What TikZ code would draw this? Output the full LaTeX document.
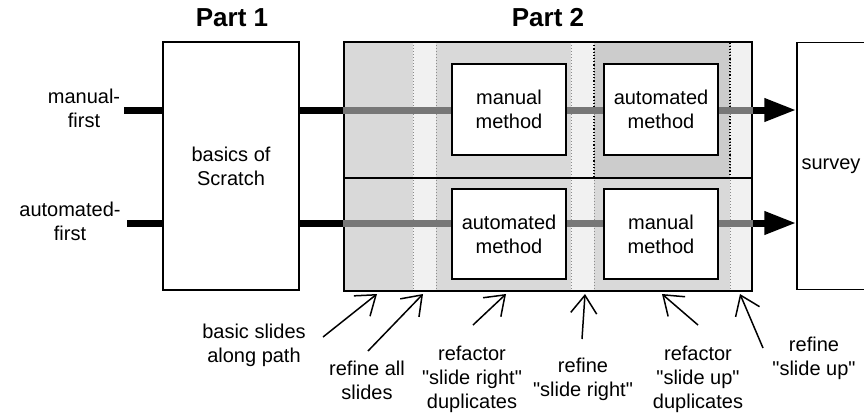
\documentclass[tikz,border=0pt]{standalone}
\usepackage{fontspec}
\setmainfont{Liberation Sans}[Ligatures=TeXOff]
\usetikzlibrary{arrows.meta}
\definecolor{gA}{HTML}{D9D9D9}
\definecolor{gL}{HTML}{F1F1F1}
\definecolor{gD}{HTML}{CCCCCC}
\definecolor{gLine}{HTML}{777777}
\definecolor{gDot}{HTML}{8C8C8C}
\begin{document}
\begin{tikzpicture}[x=1pt,y=-1pt,
  txt/.style={font=\fontsize{20}{24}\selectfont, align=center, inner sep=0pt},
  title/.style={font=\fontsize{26}{30}\selectfont\bfseries, inner sep=0pt},
  bigbox/.style={draw, line width=1.5pt, fill=white, inner sep=0pt, align=center, font=\fontsize{20}{24}\selectfont},
  methbox/.style={draw, line width=2pt, fill=white, inner sep=0pt, align=center, font=\fontsize{20}{24}\selectfont, minimum width=114pt, minimum height=91pt},
  blackline/.style={line width=7pt, black},
  greyline/.style={line width=7pt, gLine},
  bigarrow/.style={line width=7pt, black, -{Triangle[length=32pt,width=22pt]}},
  note/.style={line width=1.5pt, -{Straight Barb[length=18pt,width=26pt]}},
  sep/.style={gDot, line width=1pt, dotted},
]
\useasboundingbox (0,0) rectangle (864,416);

% titles
\node[title] (t1) at (232,18) {Part 1};
\node[title] (t2) at (548,18) {Part 2};

% Part 2 shading
\fill[gA] (344,42) rectangle (413,291);
\fill[gL] (413,42) rectangle (436,291);
\fill[gA] (436,42) rectangle (571,291);
\fill[gL] (571,42) rectangle (594,291);
\fill[gD] (594,42) rectangle (730,178);
\fill[gA] (594,178) rectangle (730,291);
\fill[gL] (730,42) rectangle (752,291);
\foreach \xx in {413,436,571,594,730} \draw[sep] (\xx,42) -- (\xx,291);
\draw[line width=1.2pt, dotted] (594,42) rectangle (730,178);

% main boxes
\node[bigbox, minimum width=136pt, minimum height=248pt] (p1) at (231,166) {basics of\\Scratch};
\node[draw, line width=1.5pt, minimum width=408pt, minimum height=249pt, inner sep=0pt] (p2) at (548,166.5) {};
\draw[line width=1.5pt] (p2.west |- 0,178) -- (p2.east |- 0,178);
\node[bigbox, minimum width=68pt, minimum height=247pt] (sv) at (831,166) {survey};

% row coordinates
\coordinate (r1) at (0,110);
\coordinate (r2) at (0,223);
\coordinate (mf) at (124,110);
\coordinate (af) at (127,223);

% method boxes
\node[methbox] (mm1) at (509,109.5) {manual\\method};
\node[methbox] (am1) at (661,109.5) {automated\\method};
\node[methbox, minimum height=90pt] (am2) at (509,234) {automated\\method};
\node[methbox, minimum height=90pt] (mm2) at (661,234) {manual\\method};

% left labels
\node[txt] (lmf) at (84,108) {manual-\\first};
\node[txt] (laf) at (70,221) {automated-\\first};

% flows row 1
\draw[blackline] (mf) -- (p1.west |- r1);
\draw[blackline] (p1.east |- r1) -- (p2.west |- r1);
\draw[greyline] (p2.west |- r1) -- (mm1.west |- r1);
\draw[greyline] (mm1.east |- r1) -- (am1.west |- r1);
\draw[greyline] (am1.east |- r1) -- (p2.east |- r1);
\draw[bigarrow] (p2.east |- r1) -- (sv.west |- r1);
% flows row 2
\draw[blackline] (af) -- (p1.west |- r2);
\draw[blackline] (p1.east |- r2) -- (p2.west |- r2);
\draw[greyline] (p2.west |- r2) -- (am2.west |- r2);
\draw[greyline] (am2.east |- r2) -- (mm2.west |- r2);
\draw[greyline] (mm2.east |- r2) -- (p2.east |- r2);
\draw[bigarrow] (p2.east |- r2) -- (sv.west |- r2);

% bottom annotations
\node[txt] (n1) at (254,345) {basic slides\\along path};
\node[txt] (n2) at (367,380) {refine all\\slides};
\node[txt] (n3) at (472,379) {refactor\\"slide right"\\duplicates};
\node[txt] (n4) at (583,379) {refine\\"slide right"};
\node[txt] (n5) at (698,379) {refactor\\"slide up"\\duplicates};
\node[txt] (n6) at (814,358) {refine\\"slide up"};

\coordinate (a1t) at (323,337); \coordinate (a1h) at (377,294);
\coordinate (a2t) at (368,351); \coordinate (a2h) at (423,294);
\coordinate (a3t) at (473,325); \coordinate (a3h) at (506,294);
\coordinate (a4t) at (582,339); \coordinate (a4h) at (585,294);
\coordinate (a5t) at (698,325); \coordinate (a5h) at (662,294);
\coordinate (a6t) at (763,348); \coordinate (a6h) at (740,294);
\draw[note] (a1t) -- (a1h);
\draw[note] (a2t) -- (a2h);
\draw[note] (a3t) -- (a3h);
\draw[note] (a4t) -- (a4h);
\draw[note] (a5t) -- (a5h);
\draw[note] (a6t) -- (a6h);
\end{tikzpicture}
\end{document}
